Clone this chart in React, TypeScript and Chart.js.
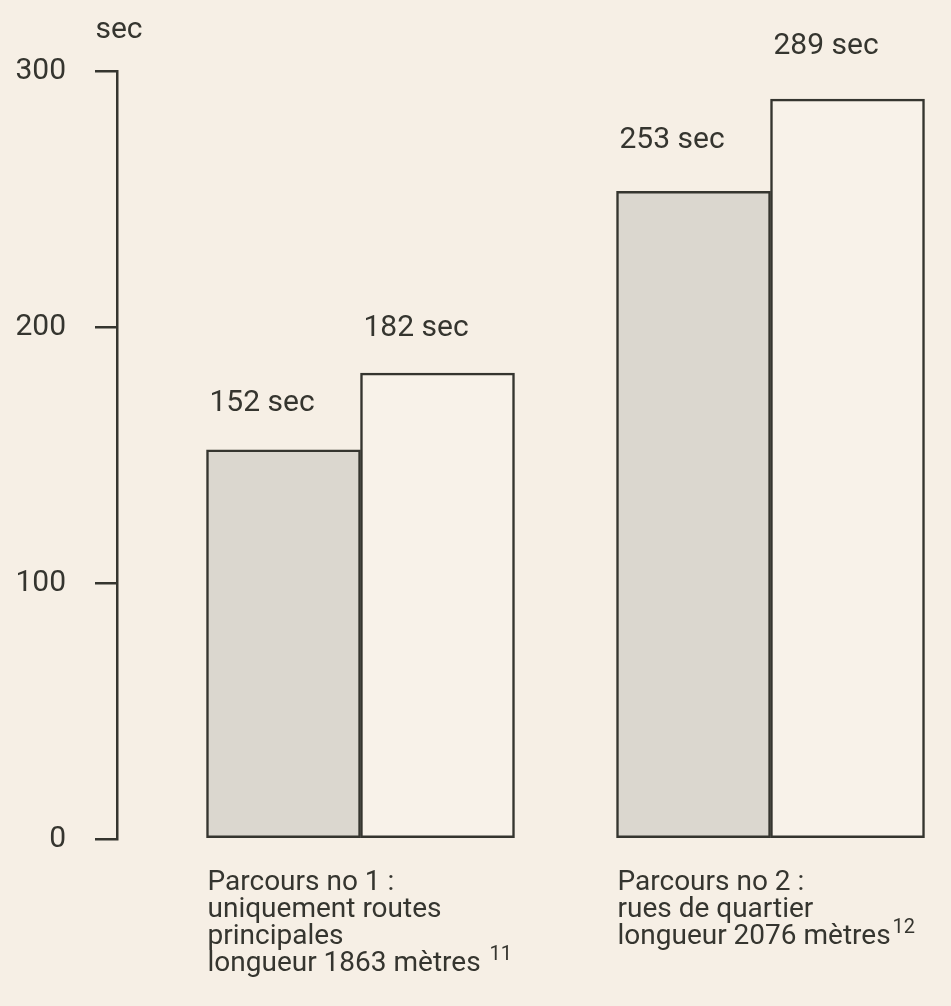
import React, { useEffect, useRef } from "react";
import { Chart, registerables } from "chart.js";

Chart.register(...registerables);

// ---- data ----
const categoryPositions = [1, 2];
const categoryLines: string[][] = [
  ["Parcours no 1 :", "uniquement routes", "principales", "longueur 1863 mètres "],
  ["Parcours no 2 :", "rues de quartier", "longueur 2076 mètres"],
];
const categoryFootnotes = ["11", "12"];
const seriesShaded = [152, 253];
const seriesWhite = [182, 289];
const yTickValues = [0, 100, 200, 300];
const yUnit = "sec";

// ---- style ----
const BG = "#f6efe5";
const INK = "#35352f";
const GRAY_FILL = "#dbd7cf";
const WHITE_FILL = "#f8f2e9";
const FONT = "Roboto";

const labelPlugin = {
  id: "customLabels",
  afterDatasetsDraw(chart: any) {
    const ctx = chart.ctx;
    const lift = [
      [46, 45],
      [51, 53],
    ];
    ctx.save();
    ctx.fillStyle = INK;
    ctx.font = `30px ${FONT}`;
    ctx.textBaseline = "middle";
    ctx.textAlign = "left";
    chart.data.datasets.forEach((ds: any, di: number) => {
      const meta = chart.getDatasetMeta(di);
      meta.data.forEach((bar: any, i: number) => {
        const p = bar.getProps(["x", "y", "width"], true);
        const left = p.x - p.width / 2;
        ctx.fillText(`${ds.data[i].y} ${yUnit}`, left + 3, p.y - lift[i][di]);
      });
    });

    // category labels under bar groups
    const meta0 = chart.getDatasetMeta(0);
    meta0.data.forEach((bar: any, i: number) => {
      const p = bar.getProps(["x", "width"], true);
      const left = p.x - p.width / 2 + 1;
      const lines = categoryLines[i];
      const top = 883;
      const pitch = 27;
      ctx.font = `28px ${FONT}`;
      lines.forEach((ln, k) => {
        ctx.fillText(ln, left, top + k * pitch);
      });
      const last = lines[lines.length - 1];
      const w = ctx.measureText(last).width;
      ctx.font = `20px ${FONT}`;
      ctx.fillText(categoryFootnotes[i], left + w + 2, top + (lines.length - 1) * pitch - 9);
    });

    // axis unit
    const yScale = chart.scales.y;
    ctx.font = `30px ${FONT}`;
    ctx.textAlign = "center";
    ctx.fillText(yUnit, yScale.right + 2, 30);
    ctx.restore();
  },
};

export default function App() {
  const ref = useRef<HTMLCanvasElement | null>(null);
  useEffect(() => {
    document.body.style.margin = "0";
    document.body.style.background = BG;
    const canvas = ref.current!;
    const chart = new Chart(canvas, {
      type: "bar",
      data: {
        datasets: [
          {
            label: "a",
            data: categoryPositions.map((x, i) => ({ x, y: seriesShaded[i] })),
            backgroundColor: GRAY_FILL,
            borderColor: INK,
            borderWidth: 2.5,
            borderSkipped: false,
            barThickness: 154,
          },
          {
            label: "b",
            data: categoryPositions.map((x, i) => ({ x, y: seriesWhite[i] })),
            backgroundColor: WHITE_FILL,
            borderColor: INK,
            borderWidth: 2.5,
            borderSkipped: false,
            barThickness: 154,
          },
        ],
      },
      options: {
        responsive: false,
        animation: false,
        layout: { padding: { top: 71, bottom: 167, right: 16, left: 0 } },
        plugins: { legend: { display: false }, tooltip: { enabled: false } },
        scales: {
          x: {
            type: "linear",
            min: 0.4061,
            max: 2.4012,
            offset: false,
            grid: { offset: false },
            display: false,
          },
          y: {
            min: 0,
            max: 300,
            afterFit: (s: any) => {
              s.width = 117;
            },
            afterBuildTicks: (s: any) => {
              s.ticks = yTickValues.map((v) => ({ value: v }));
            },
            grid: {
              drawOnChartArea: false,
              drawTicks: true,
              tickLength: 22,
              color: INK,
              lineWidth: 2.5,
            },
            border: { display: true, color: INK, width: 2.5 },
            ticks: {
              padding: 29,
              color: INK,
              font: { family: FONT, size: 30 },
            },
          },
        },
      },
      plugins: [labelPlugin],
    });
    return () => chart.destroy();
  }, []);
  return (
    <div style={{ width: 951, height: 1006, background: BG }}>
      <canvas ref={ref} width={951} height={1006} style={{ display: "block" }} />
    </div>
  );
}
